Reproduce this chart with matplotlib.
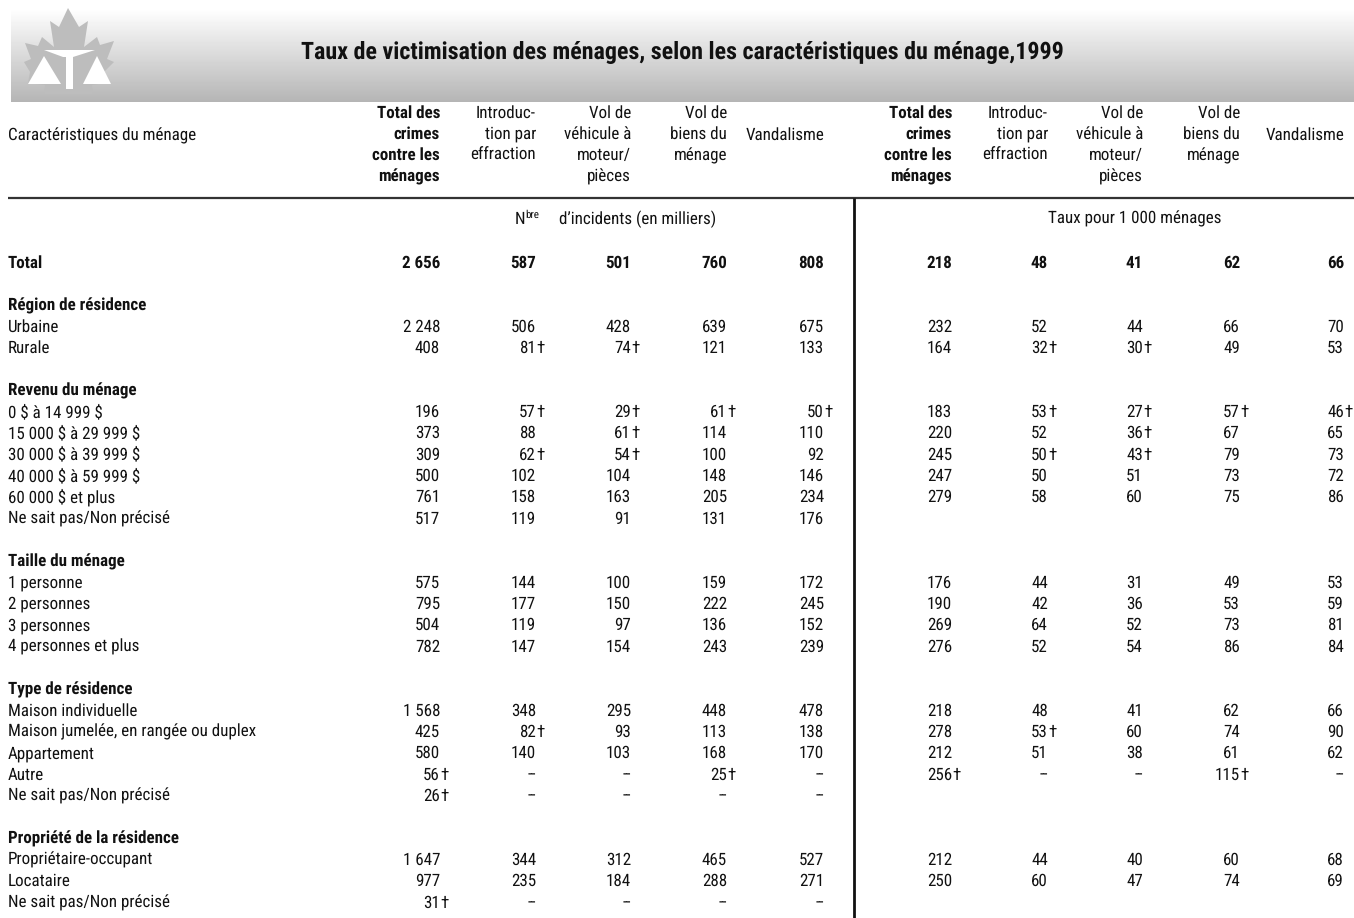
import matplotlib
matplotlib.use("Agg")
import matplotlib.pyplot as plt
import numpy as np
from matplotlib.patches import Polygon, Rectangle

plt.rcParams["font.family"] = ["Roboto Condensed", "Liberation Sans", "DejaVu Sans"]
plt.rcParams["text.parse_math"] = False
plt.rcParams["text.hinting"] = "no_hinting"
plt.rcParams["text.hinting_factor"] = 1

title = "Taux de victimisation des ménages, selon les caractéristiques du ménage,1999"
stub_header = "Caractéristiques du ménage"
col_headers = ["Total des\ncrimes\ncontre les\nménages", "Introduc-\ntion par\neffraction",
               "Vol de\nvéhicule à\nmoteur/\npièces", "Vol de\nbiens du\nménage", "Vandalisme"]
panel_right = "Taux pour 1 000 ménages"

total_row = ["Total", "2 656", "587", "501", "760", "808", "218", "48", "41", "62", "66"]

# group title, then rows of label + 10 values
groups = [
    ("Région de résidence", [
        ["Urbaine", "2 248", "506", "428", "639", "675", "232", "52", "44", "66", "70"],
        ["Rurale", "408", "81†", "74†", "121", "133", "164", "32†", "30†", "49", "53"],
    ]),
    ("Revenu du ménage", [
        ["0 $ à 14 999 $", "196", "57†", "29†", "61†", "50†", "183", "53†", "27†", "57†", "46†"],
        ["15 000 $ à 29 999 $", "373", "88", "61†", "114", "110", "220", "52", "36†", "67", "65"],
        ["30 000 $ à 39 999 $", "309", "62†", "54†", "100", "92", "245", "50†", "43†", "79", "73"],
        ["40 000 $ à 59 999 $", "500", "102", "104", "148", "146", "247", "50", "51", "73", "72"],
        ["60 000 $ et plus", "761", "158", "163", "205", "234", "279", "58", "60", "75", "86"],
        ["Ne sait pas/Non précisé", "517", "119", "91", "131", "176", "", "", "", "", ""],
    ]),
    ("Taille du ménage", [
        ["1 personne", "575", "144", "100", "159", "172", "176", "44", "31", "49", "53"],
        ["2 personnes", "795", "177", "150", "222", "245", "190", "42", "36", "53", "59"],
        ["3 personnes", "504", "119", "97", "136", "152", "269", "64", "52", "73", "81"],
        ["4 personnes et plus", "782", "147", "154", "243", "239", "276", "52", "54", "86", "84"],
    ]),
    ("Type de résidence", [
        ["Maison individuelle", "1 568", "348", "295", "448", "478", "218", "48", "41", "62", "66"],
        ["Maison jumelée, en rangée ou duplex", "425", "82†", "93", "113", "138", "278", "53†", "60", "74", "90"],
        ["Appartement", "580", "140", "103", "168", "170", "212", "51", "38", "61", "62"],
        ["Autre", "56†", "--", "--", "25†", "--", "256†", "--", "--", "115†", "--"],
        ["Ne sait pas/Non précisé", "26†", "--", "--", "--", "--", "", "", "", "", ""],
    ]),
    ("Propriété de la résidence", [
        ["Propriétaire-occupant", "1 647", "344", "312", "465", "527", "212", "44", "40", "60", "68"],
        ["Locataire", "977", "235", "184", "288", "271", "250", "60", "47", "74", "69"],
        ["Ne sait pas/Non précisé", "31†", "--", "--", "--", "--", "", "", "", "", ""],
    ]),
]

# right edges of the columns, in pixels
col_x = [440, 536, 631, 727, 824, 952, 1048, 1143, 1240, 1344]
FS = 12.6
INK = "#111111"
step = 21.33
y0 = 263

fig = plt.figure(figsize=(13.54, 9.18), dpi=100)
ax = fig.add_axes([0, 0, 1, 1])

# header band
grad = np.clip((np.linspace(0, 1, 102) - 0.08) / 0.92, 0, 1)[:, None]
ax.imshow(1 - 0.29 * grad, cmap="gray", vmin=0, vmax=1, extent=[11, 1354, 102, 0], aspect="auto", zorder=0)
ax.set_xlim(0, 1354)
ax.set_ylim(918, 0)
ax.axis("off")

# logo
leaf = [(68, 8), (79, 27), (88, 21), (84, 47), (97, 37), (100, 45), (114, 41), (107, 59), (114, 62),
        (104, 72), (109, 82), (92, 85), (93, 94), (44, 94), (45, 85), (28, 83), (30, 72), (24, 62),
        (31, 59), (25, 43), (38, 46), (42, 37), (54, 47), (50, 21), (59, 27)]
ax.add_patch(Polygon(leaf, fc="#bdbdbd", ec="none", zorder=1))
ax.add_patch(Polygon([(44, 50), (95, 50), (73, 57), (63, 57)], fc="white", ec="none", zorder=2))
ax.add_patch(Rectangle((66, 57), 7, 32, fc="white", ec="none", zorder=2))
ax.add_patch(Polygon([(28, 84), (61, 84), (44, 56)], fc="white", ec="none", zorder=2))
ax.add_patch(Polygon([(83, 84), (111, 84), (97, 56)], fc="white", ec="none", zorder=2))

ax.text(301, 53, title, fontsize=17.5, fontweight="bold", va="center", ha="left", color=INK)
ax.text(8, 136, stub_header, fontsize=FS, va="center", ha="left", color=INK)

for i, x in enumerate(col_x):
    txt = col_headers[i % 5]
    start = 135 if txt == "Vandalisme" else 113
    for j, line in enumerate(txt.split("\n")):
        ax.text(x, start + j * 21.3, line, fontsize=FS, ha="right", va="center",
                fontweight="bold" if i % 5 == 0 else "normal", color=INK)

ax.plot([8, 1354], [198, 198], color="#333333", lw=1.6, solid_capstyle="butt")
ax.plot([853.5, 853.5], [198, 918], color="#111111", lw=2.0, solid_capstyle="butt")

ax.text(515, 219, "N", fontsize=FS, ha="left", va="center", color=INK)
ax.text(525, 215, "bre", fontsize=8, ha="left", va="center", color=INK)
ax.text(716, 219, "d’incidents (en milliers)", fontsize=FS, ha="right", va="center", color=INK)
ax.text(1135, 219, panel_right, fontsize=FS, ha="center", va="center", color=INK)


def put_cell(x, y, val):
    ax.text(x, y, val.replace("†", ""), fontsize=FS, ha="right", va="center", color=INK)
    if val.endswith("†"):
        ax.text(x, y, "†", fontsize=FS, ha="left", va="center", color=INK)


ax.text(8, y0, total_row[0], fontsize=FS, fontweight="bold", va="center", color=INK)
for x, val in zip(col_x, total_row[1:]):
    ax.text(x, y0, val, fontsize=FS, fontweight="bold", ha="right", va="center", color=INK)

row = 2
for name, rows in groups:
    ax.text(8, y0 + row * step, name, fontsize=FS, fontweight="bold", va="center", color=INK)
    row += 1
    for r in rows:
        y = y0 + row * step
        ax.text(8, y, r[0], fontsize=FS, va="center", color=INK)
        for x, val in zip(col_x, r[1:]):
            put_cell(x, y, val)
        row += 1
    row += 1

fig.savefig("out.png", dpi=100)
